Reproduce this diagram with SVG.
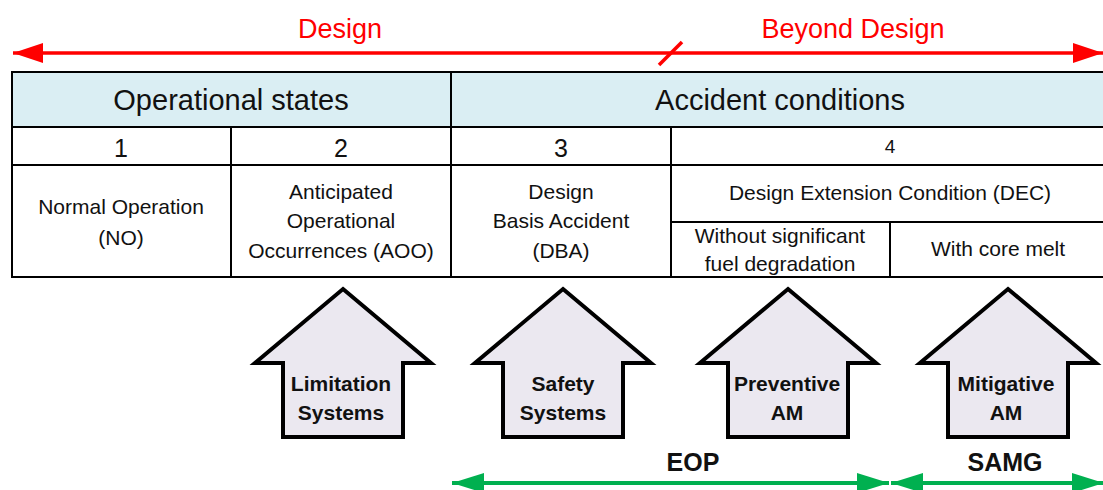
<svg xmlns="http://www.w3.org/2000/svg" width="1103" height="490" viewBox="0 0 1103 490">
<defs>
<style>
text{font-family:"Liberation Sans",Arial,sans-serif;text-anchor:middle;fill:#111}
.red{fill:#FF0000;font-size:27px}
.hdr{font-size:29px}
.num{font-size:25px}
.cell{font-size:21px}
.lbl{font-size:21px;font-weight:bold}
.big{font-size:25px;font-weight:bold}
.grid{stroke:#000;stroke-width:2;fill:none}
.house{fill:#EBE8F0;stroke:#000;stroke-width:4;stroke-linejoin:miter}
.rl{stroke:#FF0000;stroke-width:3.5;fill:none}
.gl{stroke:#00B050;stroke-width:4;fill:none}
</style>
<marker id="rh" markerWidth="30" markerHeight="20" refX="30" refY="10" orient="auto-start-reverse" markerUnits="userSpaceOnUse"><path d="M0,0 L30,10 L0,20 Z" fill="#FF0000"/></marker>
<marker id="gh" markerWidth="32" markerHeight="20" refX="32" refY="10" orient="auto-start-reverse" markerUnits="userSpaceOnUse"><path d="M0,0 L32,10 L0,20 Z" fill="#00B050"/></marker>
</defs>
<rect width="1103" height="490" fill="#fff"/>

<g id="connectors">
<line class="rl" x1="13" y1="53" x2="1103" y2="53" marker-start="url(#rh)" marker-end="url(#rh)"/>
<line x1="659" y1="65" x2="682" y2="42" stroke="#FF0000" stroke-width="3.5"/>
<line class="gl" x1="452" y1="483" x2="889" y2="483" marker-start="url(#gh)" marker-end="url(#gh)"/>
<line class="gl" x1="891" y1="483" x2="1104" y2="483" marker-start="url(#gh)" marker-end="url(#gh)"/>
</g>

<g id="labels-top">
<text class="red" x="340" y="38">Design</text>
<text class="red" x="853" y="38">Beyond Design</text>
</g>

<g id="table">
<rect x="12" y="72" width="1095" height="55" fill="#DAEEF3"/>
<path class="grid" d="M1105,72 H12 V277 H1105 M12,127 H1105 M12,165 H1105 M451,72 V277 M231,127 V277 M671,127 V277 M671,222 H1105 M890,222 V277"/>
<text class="hdr" x="231" y="110">Operational states</text>
<text class="hdr" x="780" y="110">Accident conditions</text>
<text class="num" x="121" y="157">1</text>
<text class="num" x="341" y="157">2</text>
<text class="num" x="561" y="157">3</text>
<text x="890" y="153" style="font-size:19px">4</text>
<text class="cell" x="121" y="214">Normal Operation</text>
<text class="cell" x="121" y="245">(NO)</text>
<text class="cell" x="341" y="199">Anticipated</text>
<text class="cell" x="341" y="228">Operational</text>
<text class="cell" x="341" y="258">Occurrences (AOO)</text>
<text class="cell" x="561" y="199">Design</text>
<text class="cell" x="561" y="228">Basis Accident</text>
<text class="cell" x="561" y="258">(DBA)</text>
<text class="cell" x="890" y="200">Design Extension Condition (DEC)</text>
<text class="cell" x="780" y="243">Without significant</text>
<text class="cell" x="780" y="271">fuel degradation</text>
<text class="cell" x="998" y="256">With core melt</text>
</g>

<g id="limitation">
<path class="house" d="M343,289 L431,363 L403,363 L403,437 L283,437 L283,363 L255,363 Z"/>
<text class="lbl" x="341" y="391">Limitation</text>
<text class="lbl" x="341" y="420">Systems</text>
</g>
<g id="safety">
<path class="house" d="M563,289 L651,363 L623,363 L623,437 L503,437 L503,363 L475,363 Z" transform="translate(0,0)"/>
<text class="lbl" x="563" y="391">Safety</text>
<text class="lbl" x="563" y="420">Systems</text>
</g>
<g id="preventive">
<path class="house" d="M788,289 L876,363 L848,363 L848,437 L728,437 L728,363 L700,363 Z"/>
<text class="lbl" x="787" y="391">Preventive</text>
<text class="lbl" x="787" y="420">AM</text>
</g>
<g id="mitigative">
<path class="house" d="M1008,289 L1096,363 L1068,363 L1068,437 L948,437 L948,363 L920,363 Z"/>
<text class="lbl" x="1006" y="391">Mitigative</text>
<text class="lbl" x="1006" y="420">AM</text>
</g>

<g id="bottom-labels">
<text class="big" x="693" y="471">EOP</text>
<text class="big" x="1005" y="471">SAMG</text>
</g>
</svg>
